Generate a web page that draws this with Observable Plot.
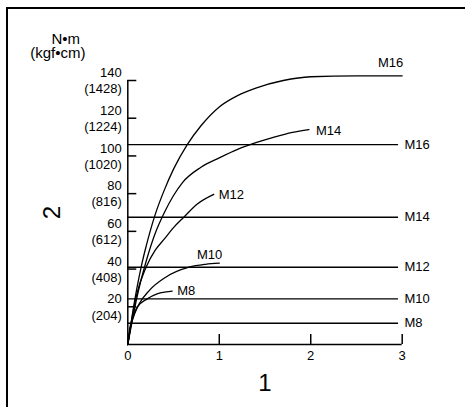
<!DOCTYPE html>
<html><head><meta charset="utf-8">
<script src="https://cdn.jsdelivr.net/npm/d3@7"></script>
<script src="https://cdn.jsdelivr.net/npm/@observablehq/plot@0.6"></script>
<style>
body{margin:0;background:#fff;}
#wrap{position:relative;width:465px;height:407px;overflow:hidden;background:#fff;}
#border{position:absolute;left:6px;top:7px;width:600px;height:600px;border-left:2px solid #000;border-top:2px solid #000;}
#chart{position:absolute;left:0;top:0;}
</style></head><body>
<div id="wrap"><div id="border"></div><div id="chart"></div></div>
<script>
// ---- data ----
const seriesNames = ["M8", "M10", "M12", "M14", "M16"];
const m8X  = [0, 0.02, 0.06, 0.103, 0.212, 0.32, 0.42, 0.485];
const m8Y  = [0, 8, 15, 19.8, 24.2, 26.9, 27.9, 28.3];
const m10X = [0, 0.03, 0.08, 0.125, 0.234, 0.415, 0.67, 0.85, 1.0];
const m10Y = [0, 9, 17, 21.6, 28.6, 35.7, 41, 42.5, 43.1];
const m12X = [0, 0.05, 0.1, 0.2, 0.3, 0.4, 0.5, 0.612, 0.76, 0.94];
const m12Y = [0, 15, 27, 41, 50, 56, 62, 67.5, 74.5, 79.6];
const m14X = [0, 0.05, 0.1, 0.2, 0.3, 0.4, 0.5, 0.6, 0.8, 1.0, 1.2, 1.4, 1.6, 1.8, 1.98];
const m14Y = [0, 13, 25, 44, 59, 70, 79, 86, 94, 99, 103.5, 107, 110, 112.5, 114];
const m16X = [0, 0.05, 0.1, 0.15, 0.2, 0.3, 0.4, 0.5, 0.65, 0.8, 1.0, 1.2, 1.4, 1.7, 2.0, 2.5, 3.0];
const m16Y = [0, 16, 30, 42, 52, 69, 82, 93, 106, 116, 126, 132, 136, 140, 142, 142.5, 142.5];
const limitNames  = ["M8", "M10", "M12", "M14", "M16"];
const limitValues = [11.3, 24.2, 41, 67.5, 106];
const limitEndX = 2.96;
const yTicks = [20, 40, 60, 80, 100, 120, 140];
const yTickKgf = ["204", "408", "612", "816", "1020", "1224", "1428"];
const xTicks = [0, 1, 2, 3];
const xTickMarks = [1, 2, 3];
const xTitle = "1";
const yTitle = "2";
const unitLine1 = "N•m";
const unitLine2 = "(kgf•cm)";

// ---- build tables ----
const seriesXs = [m8X, m10X, m12X, m14X, m16X];
const seriesYs = [m8Y, m10Y, m12Y, m14Y, m16Y];
const curves = [];
seriesNames.forEach((s, k) => seriesXs[k].forEach((x, i) => curves.push({series: s, x, v: seriesYs[k][i]})));
const curveEnds = seriesNames.map((s, k) => ({series: s, x: seriesXs[k][seriesXs[k].length - 1], v: seriesYs[k][seriesYs[k].length - 1]}));
const limits = limitNames.map((s, i) => ({series: s, v: limitValues[i]}));
const kgfMap = new Map(yTicks.map((d, i) => [d, yTickKgf[i]]));

// label placement styles for curve end labels
const endLabelStyle = {
  M8:  {textAnchor: "start", dx: 5, dy: 0},
  M10: {textAnchor: "end", dx: 3, dy: -8},
  M12: {textAnchor: "start", dx: 5, dy: 0},
  M14: {textAnchor: "start", dx: 7, dy: 1},
  M16: {textAnchor: "end", dx: 1, dy: -13}
};

const font = "'Liberation Sans', Arial, Helvetica, sans-serif";
const W = 465, H = 407, mL = 127.3, mR = 63.3, mT = 80, mB = 63;
const frameW = W - mL - mR, frameH = H - mT - mB;
const yTickLen = 9, xTickLen = 10;

const chart = Plot.plot({
  width: W, height: H,
  marginLeft: mL, marginRight: mR, marginTop: mT, marginBottom: mB,
  x: {domain: [0, 3], label: null, axis: null},
  y: {domain: [0, 140], label: null, axis: null},
  style: {fontFamily: font, fontSize: "13px", background: "transparent", color: "#000"},
  marks: [
    // axis lines
    Plot.ruleX([0], {stroke: "#000", strokeWidth: 1.5}),
    Plot.ruleY([0], {stroke: "#000", strokeWidth: 1.5}),
    // inward ticks
    Plot.tickY(yTicks, {y: d => d, insetRight: frameW - yTickLen, stroke: "#000", strokeWidth: 1.5}),
    Plot.tickX(xTickMarks, {x: d => d, insetTop: frameH - xTickLen, stroke: "#000", strokeWidth: 1.5}),
    // tick labels
    Plot.text(yTicks, {x: 0, y: d => d, text: d => `${d}\n(${kgfMap.get(d)})`, textAnchor: "end", lineAnchor: "middle", dx: -6, dy: -0.5, lineHeight: 1.25, fontSize: 13, fill: "#000"}),
    Plot.text(xTicks, {x: d => d, y: 0, text: d => String(d), textAnchor: "middle", lineAnchor: "top", dy: 6, fontSize: 13, fill: "#000"}),
    // horizontal limit lines
    Plot.ruleY(limits, {y: "v", x1: 0, x2: limitEndX, stroke: "#000", strokeWidth: 1.4}),
    Plot.text(limits, {x: limitEndX, y: "v", text: "series", textAnchor: "start", dx: 6, fontSize: 13, fill: "#000"}),
    // curves
    Plot.line(curves, {x: "x", y: "v", z: "series", curve: "monotone-x", stroke: "#000", strokeWidth: 1.3}),
    ...seriesNames.map(s => Plot.text(curveEnds.filter(d => d.series === s), {x: "x", y: "v", text: "series", fontSize: 13, fill: "#000", ...endLabelStyle[s]})),
    // titles
    Plot.text([xTitle], {frameAnchor: "bottom", text: d => d, textAnchor: "middle", lineAnchor: "middle", dy: 39, fontSize: 24, fill: "#000"}),
    Plot.text([yTitle], {frameAnchor: "left", text: d => d, textAnchor: "middle", lineAnchor: "middle", dx: -75, rotate: -90, fontSize: 24, fill: "#000"}),
    Plot.text([unitLine1], {frameAnchor: "top-left", text: d => d, textAnchor: "middle", lineAnchor: "middle", dx: -62, dy: -41, fontSize: 15, fill: "#000"}),
    Plot.text([unitLine2], {frameAnchor: "top-left", text: d => d, textAnchor: "middle", lineAnchor: "middle", dx: -70, dy: -27, fontSize: 15, fill: "#000"})
  ]
});
document.getElementById("chart").appendChild(chart);
</script></body></html>
